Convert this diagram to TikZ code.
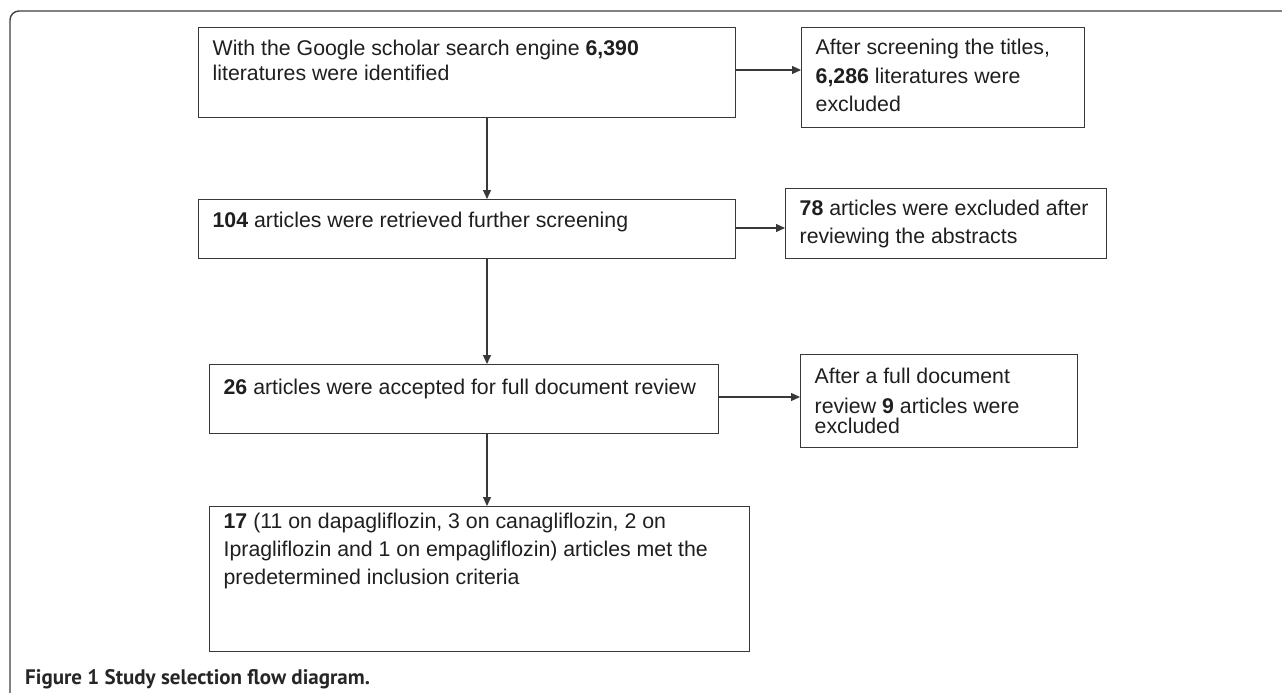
\documentclass[tikz,border=0pt]{standalone}
\usepackage{fontspec}
\setmainfont{Liberation Sans}
\newfontfamily\capfamily{PT Sans}
\usepackage{tikz}
\usetikzlibrary{arrows.meta}
\def\flowtext#1#2#3#4#5{\parbox[c][#2pt][t]{#1pt}{\lineskiplimit=-50pt\baselineskip=#4pt\leftskip=14pt\vspace*{\dimexpr#3pt-16pt\relax}\rule{0pt}{16pt}#5}}
\tikzset{
	flowbox/.style={draw=black!78, line width=1.3pt, inner sep=0pt, anchor=north west, text=black!88, font=\fontsize{21.3}{25}\selectfont},
	flowarrow/.style={draw=black!78, line width=1.2pt, -{Triangle[length=9pt,width=8pt]}},
}

\begin{document}
\begin{tikzpicture}[x=1pt,y=-1pt]
		%%%%% START %%%%%
		
		\useasboundingbox (0,0) rectangle (1282,693);
		\fill[white] (0,0) rectangle (1282,693);
		\draw[line width=1.4pt, color=black!75, rounded corners=9pt] (10,710) -- (10,11) -- (1300,11);
		
		\node[flowbox] (ident) at (198,27) {\flowtext{537}{90}{28}{25}{With the Google scholar search engine \textbf{6,390}\\literatures were identified}};
		\node[flowbox] (titles) at (801,27) {\flowtext{283}{100}{27}{28.5}{After screening the titles,\\\textbf{6,286} literatures were\\excluded}};
		
		\node[flowbox] (retrieved) at (198,199) {\flowtext{537}{59}{28}{25}{\textbf{104} articles were retrieved further screening}};
		\node[flowbox] (abstracts) at (785,188) {\flowtext{321}{70}{27}{28}{\textbf{78} articles were excluded after\\reviewing the abstracts}};
		
		\node[flowbox] (fulldoc) at (209,364) {\flowtext{509}{69}{30}{25}{\textbf{26} articles were accepted for full document review}};
		\node[flowbox] (fullexcl) at (800,354) {\flowtext{277}{93}{29}{30}{After a full document\\review \textbf{9} articles were\\[-10pt]excluded}};
		
		\node[flowbox] (included) at (209,506) {\flowtext{540}{145}{22}{28}{\textbf{17} (11 on dapagliflozin, 3 on canagliflozin, 2 on\\Ipragliflozin and 1 on empagliflozin) articles met the\\predetermined inclusion criteria}};
		
		\coordinate (spine) at (487,0);
		\coordinate (row1) at (0,70);
		\coordinate (row2) at (0,228);
		\coordinate (row3) at (0,397);
		
		\draw[flowarrow] (ident.south -| spine) -- (retrieved.north -| spine);
		\draw[flowarrow] (retrieved.south -| spine) -- (fulldoc.north -| spine);
		\draw[flowarrow] (fulldoc.south -| spine) -- (included.north -| spine);
		
		\draw[flowarrow] (ident.east |- row1) -- (titles.west |- row1);
		\draw[flowarrow] (retrieved.east |- row2) -- (abstracts.west |- row2);
		\draw[flowarrow] (fulldoc.east |- row3) -- (fullexcl.west |- row3);
		
		\node[anchor=base west, inner sep=0pt, text=black!85, font=\capfamily\bfseries\fontsize{21}{24}\selectfont] (caption) at (25,684) {Figure 1 Study selection flow diagram.};
		
		%%%%% END %%%%%
\end{tikzpicture}
\end{document}
